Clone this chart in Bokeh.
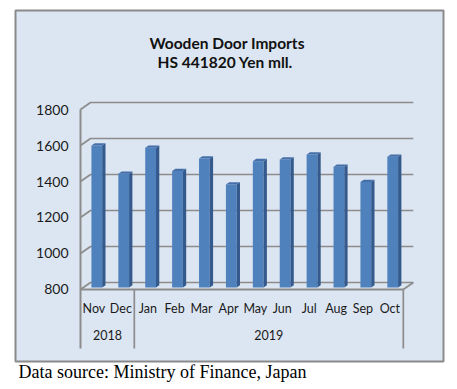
import numpy as np
from bokeh.plotting import figure
from bokeh.models import Range1d, LinearAxis, FixedTicker, Label
from bokeh.embed import file_html
from bokeh.resources import INLINE

# ---- data ----
months = ["Nov", "Dec", "Jan", "Feb", "Mar", "Apr", "May", "Jun", "Jul", "Aug", "Sep", "Oct"]
years = ["2018", "2019"]
year_counts = [2, 10]
values = [1589, 1432, 1576, 1447, 1517, 1372, 1502, 1511, 1539, 1471, 1386, 1526]
y_ticks = [800, 1000, 1200, 1400, 1600, 1800]
title_lines = ["Wooden Door Imports", "HS 441820  Yen mll."]
source_note = "Data source: Ministry of Finance, Japan"

# ---- styling / 3D geometry ----
BG = "#DCE6F2"
GRID = "#8C8C8C"
FRONT = "#4F81BD"
SIDE = "#34598C"
TOP = "#446FA8"
DX, DY = 0.372, 38.9        # depth offset (category units, value units)
F1, F2 = 0.285, 0.615       # bar depth span
BW = 0.40                   # bar width
BASE = y_ticks[0]
SEP_BOTTOM = BASE - 328
BOX = dict(left=-2.416, right=13.494, bottom=400, top=2350)   # chart-area box

def key(v):
    v = float(v)
    return int(v) if v.is_integer() else v

n = len(months)
cx = np.arange(n) + 0.5
v = np.array(values, dtype=float)

p = figure(width=449, height=389, output_backend="svg", toolbar_location=None,
           x_range=Range1d(-2.974, 13.717), y_range=Range1d(244.4, 2405.6),
           x_axis_type=None, y_axis_type=None,
           min_border_left=0, min_border_right=0, min_border_top=0, min_border_bottom=0)
p.background_fill_color = "white"
p.border_fill_color = "white"
p.outline_line_color = None
p.xgrid.visible = False
p.ygrid.visible = False

# chart box
p.quad(left=[BOX["left"]], right=[BOX["right"]], bottom=[BOX["bottom"]], top=[BOX["top"]],
       fill_color=BG, line_color="#8A8A8A", line_width=2)

# back-wall gridlines
gx = [[0, DX, n + DX] for t in y_ticks]
gy = [[t, t + DY, t + DY] for t in y_ticks]
p.multi_line(gx, gy, line_color=GRID, line_width=1.7)
p.segment(x0=[n], y0=[BASE], x1=[n + DX], y1=[BASE + DY], line_color=GRID, line_width=1.7)

# group separators
seps = list(np.cumsum(year_counts))
p.segment(x0=seps, y0=[SEP_BOTTOM] * len(seps), x1=seps, y1=[BASE] * len(seps),
          line_color=GRID, line_width=1.7)

# 3D bars
xl = cx + F1 * DX - BW / 2
xr = cx + F1 * DX + BW / 2
dd = (F2 - F1) * DX
p.vbar(x=cx + F1 * DX, width=BW, bottom=BASE + F1 * DY, top=v + F1 * DY,
       fill_color=FRONT, line_color=None)
side_xs = [[a, a + dd, a + dd, a] for a in xr]
side_ys = [[BASE + F1 * DY, BASE + F2 * DY, h + F2 * DY, h + F1 * DY] for h in v]
p.patches(side_xs, side_ys, fill_color=SIDE, line_color=None)
top_xs = [[a, b, b + dd, a + dd] for a, b in zip(xl, xr)]
top_ys = [[h + F1 * DY, h + F1 * DY, h + F2 * DY, h + F2 * DY] for h in v]
p.patches(top_xs, top_ys, fill_color=TOP, line_color=None)

# axes
common = dict(major_tick_out=0, major_tick_in=0, minor_tick_out=0, minor_tick_in=0,
              major_tick_line_color=None, minor_tick_line_color=None,
              major_label_text_font="Lato", major_label_text_color="#1a1a1a")

xaxis = LinearAxis(fixed_location=BASE, ticker=FixedTicker(ticks=list(cx), minor_ticks=[]),
                   major_label_overrides={key(c): m for c, m in zip(cx, months)},
                   bounds=(0, n), axis_line_color=GRID, axis_line_width=2,
                   major_label_standoff=12, major_label_text_font_size="12.5px", **common)
p.add_layout(xaxis, "below")

starts = np.concatenate([[0], np.cumsum(year_counts)[:-1]])
ycent = [s + c / 2 for s, c in zip(starts, year_counts)]
yraxis = LinearAxis(fixed_location=BASE, ticker=FixedTicker(ticks=[key(c) for c in ycent], minor_ticks=[]),
                    major_label_overrides={key(c): y for c, y in zip(ycent, years)},
                    axis_line_color=None, major_label_standoff=41,
                    major_label_text_font_size="12.5px", **common)
p.add_layout(yraxis, "below")

yaxis = LinearAxis(fixed_location=0, ticker=FixedTicker(ticks=y_ticks, minor_ticks=[]),
                   bounds=(SEP_BOTTOM, y_ticks[-1]), axis_line_color=GRID, axis_line_width=2,
                   major_label_standoff=12, major_label_text_font_size="14px", **common)
p.add_layout(yaxis, "left")

# chart title (two lines)
for txt, ym in zip(title_lines, [2171, 2063]):
    p.add_layout(Label(x=5.45, y=ym, text=txt, text_align="center", text_baseline="middle",
                       text_font="Lato", text_font_style="bold", text_font_size="15.5px",
                       text_color="#111111"))

# source note (below the chart box)
p.add_layout(Label(x=-2.305, y=344, text=source_note, text_align="left",
                   text_baseline="middle", text_font="Liberation Serif",
                   text_font_size="18px", text_color="black"))

open("out.html", "w").write(file_html(p, INLINE))
